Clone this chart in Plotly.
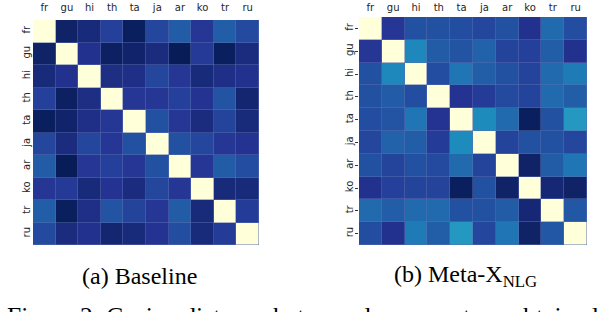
import plotly.graph_objects as go
import plotly.colors as pc

langs = ["fr", "gu", "hi", "th", "ta", "ja", "ar", "ko", "tr", "ru"]

# Cosine distance matrices, rows/cols in order of langs
baseline = [
    [0.00, 0.97, 0.93, 0.84, 0.99, 0.82, 0.76, 0.87, 0.75, 0.81],
    [0.97, 0.00, 0.89, 0.98, 0.96, 0.92, 1.00, 0.86, 0.99, 0.92],
    [0.93, 0.89, 0.00, 0.91, 0.90, 0.82, 0.87, 0.93, 0.90, 0.89],
    [0.84, 0.98, 0.91, 0.00, 0.87, 0.87, 0.84, 0.88, 0.78, 0.95],
    [0.99, 0.96, 0.90, 0.87, 0.00, 0.79, 0.87, 0.92, 0.83, 0.93],
    [0.82, 0.92, 0.82, 0.87, 0.79, 0.00, 0.79, 0.82, 0.87, 0.88],
    [0.76, 1.00, 0.87, 0.84, 0.87, 0.79, 0.00, 0.87, 0.76, 0.80],
    [0.87, 0.86, 0.93, 0.88, 0.92, 0.82, 0.87, 0.00, 0.93, 0.93],
    [0.75, 0.99, 0.90, 0.78, 0.83, 0.87, 0.76, 0.93, 0.00, 0.85],
    [0.81, 0.92, 0.89, 0.95, 0.93, 0.88, 0.80, 0.93, 0.85, 0.00],
]

meta = [
    [0.00, 0.87, 0.79, 0.79, 0.80, 0.82, 0.79, 0.89, 0.72, 0.80],
    [0.87, 0.00, 0.65, 0.76, 0.78, 0.74, 0.83, 0.84, 0.75, 0.89],
    [0.79, 0.65, 0.00, 0.80, 0.69, 0.75, 0.79, 0.83, 0.72, 0.68],
    [0.79, 0.76, 0.80, 0.00, 0.88, 0.85, 0.81, 0.83, 0.72, 0.75],
    [0.80, 0.78, 0.69, 0.88, 0.00, 0.64, 0.72, 0.99, 0.79, 0.60],
    [0.82, 0.74, 0.75, 0.85, 0.64, 0.00, 0.83, 0.79, 0.79, 0.82],
    [0.79, 0.83, 0.79, 0.81, 0.72, 0.83, 0.00, 0.97, 0.76, 0.69],
    [0.89, 0.84, 0.83, 0.83, 0.99, 0.79, 0.97, 0.00, 0.94, 0.97],
    [0.72, 0.75, 0.72, 0.72, 0.79, 0.79, 0.76, 0.94, 0.00, 0.77],
    [0.80, 0.89, 0.68, 0.75, 0.60, 0.82, 0.69, 0.97, 0.77, 0.00],
]

captions = ["(a) Baseline", "(b) Meta-X<sub>NLG</sub>"]
figure_caption = "Figure 2: Cosine distance between language tags obtained"

W, H = 606, 312
cs = pc.sequential.YlGnBu  # light -> dark

fig = go.Figure()
for i, (z, xa, ya) in enumerate([(baseline, "x", "y"), (meta, "x2", "y2")]):
    fig.add_trace(go.Heatmap(
        z=z, x=langs, y=langs, colorscale=cs, zmin=0, zmax=1,
        showscale=False, xaxis=xa, yaxis=ya, xgap=0.5, ygap=0.5, hoverinfo="skip",
    ))

tickfont = dict(family="DejaVu Sans", size=10, color="#262626")

def px_x(a, b):
    return [a / W, b / W]

def px_y(top, bottom):
    return [(H - bottom) / H, (H - top) / H]

common = dict(showgrid=False, zeroline=False, showline=False, automargin=False, tickfont=tickfont)

fig.update_layout(
    template="none",
    width=W, height=H,
    margin=dict(l=0, r=0, t=0, b=0, autoexpand=False),
    paper_bgcolor="white",
    plot_bgcolor="#5a6eb0",
    showlegend=False,
    xaxis=dict(domain=px_x(33, 259), side="top", ticks="", ticklabelstandoff=6, **common),
    yaxis=dict(domain=px_y(20, 245), autorange="reversed", ticks="", tickangle=-90,
               ticklabelstandoff=0, **common),
    xaxis2=dict(domain=px_x(359, 587), side="top", anchor="y2", ticks="",
                ticklabelstandoff=3, **common),
    yaxis2=dict(domain=px_y(17, 245), anchor="x2", autorange="reversed", ticks="outside",
                ticklen=3.5, tickwidth=1, tickcolor="#333333", tickangle=-90,
                ticklabelstandoff=-2, **common),
)

capfont = dict(family="Liberation Serif, DejaVu Serif, serif", size=24, color="black")
figfont = dict(family="Liberation Serif, DejaVu Serif, serif", size=25.5, color="black")
fig.add_annotation(text=captions[0], x=139 / W, y=(H - 276) / H, xref="paper", yref="paper",
                   showarrow=False, font=capfont, xanchor="center", yanchor="middle")
fig.add_annotation(text=captions[1], x=465 / W, y=(H - 276) / H, xref="paper", yref="paper",
                   showarrow=False, font=capfont, xanchor="center", yanchor="middle")
fig.add_annotation(text=figure_caption, x=303 / W, y=(H - 300) / H, xref="paper", yref="paper",
                   showarrow=False, font=figfont, xanchor="center", yanchor="top")

fig.write_html("out.html", config={"displayModeBar": False, "staticPlot": True},
               post_script="document.body.style.margin='0';document.body.style.overflow='hidden';")
